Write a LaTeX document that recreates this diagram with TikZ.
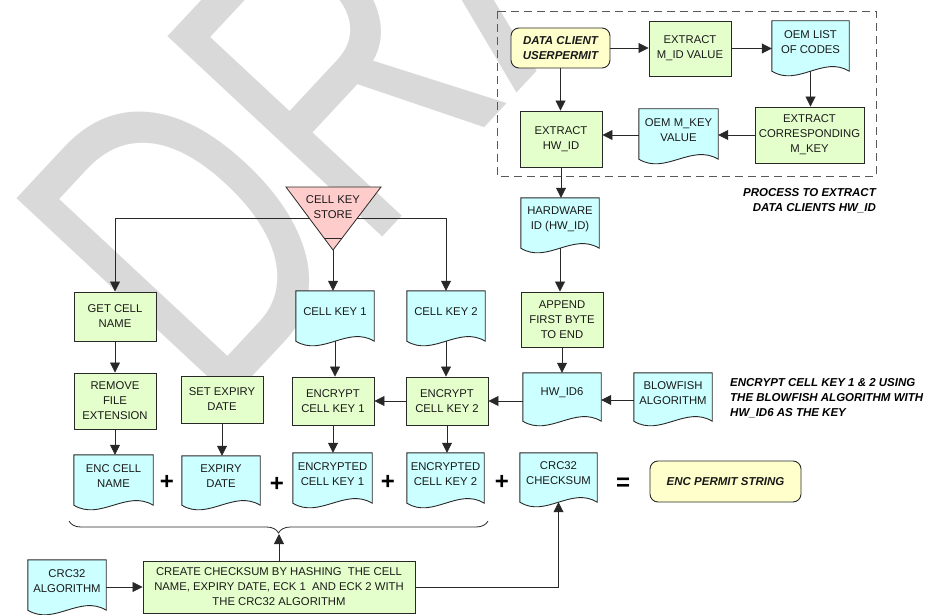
\documentclass[tikz,border=0pt]{standalone}
\usepackage{fontspec}
\setmainfont{Liberation Sans}
\usetikzlibrary{arrows.meta,calc,decorations.pathreplacing}
\pgfdeclarelayer{wmark}
\pgfdeclarelayer{background}
\pgfsetlayers{wmark,background,main}

\definecolor{boxgreen}{RGB}{229,255,204}
\definecolor{boxcyan}{RGB}{204,255,255}
\definecolor{boxyellow}{RGB}{255,255,204}
\definecolor{boxpink}{RGB}{255,204,204}
\definecolor{edge}{RGB}{40,40,40}

\tikzset{
  txt/.style={font=\fontsize{11.3}{15}\selectfont, align=center, inner sep=0pt, text=black!90},
  proc/.style={txt, rectangle, draw=edge, line width=0.9pt, fill=boxgreen},
  term/.style={txt, rectangle, rounded corners=8pt, draw=edge, line width=0.9pt, fill=boxyellow,
               font=\fontsize{11.5}{15.5}\selectfont\bfseries\itshape},
  doc/.style={txt, rectangle},
  docline/.style={draw=edge, line width=0.9pt, fill=boxcyan},
  arr/.style={draw=edge, line width=0.8pt, -{Triangle[length=10pt,width=10pt]}},
  note/.style={inner sep=0pt, font=\fontsize{11.5}{15}\selectfont\bfseries\itshape},
  op/.style={inner sep=0pt, font=\fontsize{24}{24}\selectfont\bfseries},
}

% document symbol: rectangle with a wavy lower edge, drawn behind the node text
\newcommand{\docoutline}[1]{%
  \begin{pgfonlayer}{background}
    \path[docline] (#1.north west) -- (#1.north east) -- ($(#1.south east)+(0,8)$)
      .. controls ($(#1.south east)!1/3!(#1.south west)+(0,-8)$)
             and ($(#1.south east)!2/3!(#1.south west)+(0,24)$) ..
      ($(#1.south west)+(0,8)$) -- cycle;
  \end{pgfonlayer}
  \coordinate (#1-b) at ($(#1.south)+(0,8)$);
}

\begin{document}
\begin{tikzpicture}[x=1pt,y=-1pt]
\useasboundingbox (0,0) rectangle (926,615);

% watermark
\begin{pgfonlayer}{wmark}
  \clip (0,0) rectangle (926,615);
  \node[rotate=47, anchor=base west, inner sep=0pt, text=black!15,
        font=\fontsize{427}{427}\selectfont] (wm) at (214,418) {\scalebox{0.72}[1]{DRAFT}};
\end{pgfonlayer}

% frame of the HW_ID extraction process
\draw[draw=black!65, line width=0.9pt, dash pattern=on 8pt off 5pt] (497,11) rectangle (876,176);

% --- HW_ID extraction ---
\node[term, minimum width=99pt, minimum height=40pt] (dc) at (560.5,48) {DATA CLIENT\\USERPERMIT};
\node[proc, minimum width=82pt, minimum height=55pt] (mid) at (690,48.5) {EXTRACT\\M\_ID VALUE};
\node[doc, minimum width=77pt, minimum height=42pt] (oemlist) at (810.5,42) {OEM LIST\\OF CODES};
\docoutline{oemlist}
\node[proc, minimum width=109pt, minimum height=56pt] (ecorr) at (809.5,135) {EXTRACT\\CORRESPONDING\\M\_KEY};
\node[doc, minimum width=79pt, minimum height=42pt] (oemkey) at (678.5,130) {OEM M\_KEY\\VALUE};
\docoutline{oemkey}
\node[proc, minimum width=82pt, minimum height=56pt] (ehw) at (561,139) {EXTRACT\\HW\_ID};
\node[note, anchor=east, align=right] (n1) at (876,200.5) {PROCESS TO EXTRACT\\DATA CLIENTS HW\_ID};

\node[doc, minimum width=78pt, minimum height=42pt] (hwid) at (560,219) {HARDWARE\\ID (HW\_ID)};
\docoutline{hwid}
\node[proc, minimum width=82pt, minimum height=55pt] (append) at (562,319.5) {APPEND\\FIRST BYTE\\TO END};
\node[doc, minimum width=78pt, minimum height=40pt] (hwid6) at (562,393) {HW\_ID6};
\docoutline{hwid6}
\node[doc, minimum width=78pt, minimum height=40pt] (blow) at (673,393) {BLOWFISH\\ALGORITHM};
\docoutline{blow}
\node[note, anchor=west, align=left] (n2) at (730,398) {ENCRYPT CELL KEY 1 \& 2 USING\\THE BLOWFISH ALGORITHM WITH\\HW\_ID6 AS THE KEY};

% --- cell key store ---
\filldraw[fill=boxpink, draw=edge, line width=0.8pt] (286,187) -- (381,187) -- (333,250) -- cycle;
\draw[edge, line width=0.8pt] (324,238) -- (342,238);
\node[txt] (store) at (333,207) {CELL KEY\\STORE};
\coordinate (tl) at (309,218);
\coordinate (tr) at (357,218);
\coordinate (apex) at (333,250);

\node[proc, minimum width=82pt, minimum height=49pt] (getcell) at (115,316.5) {GET CELL\\NAME};
\node[doc, minimum width=78pt, minimum height=42pt] (ck1) at (335,312) {CELL KEY 1};
\docoutline{ck1}
\node[doc, minimum width=78pt, minimum height=42pt] (ck2) at (446,312) {CELL KEY 2};
\docoutline{ck2}

\node[proc, minimum width=82pt, minimum height=56pt] (remove) at (115,401) {REMOVE\\FILE\\EXTENSION};
\node[proc, minimum width=82pt, minimum height=47pt] (setexp) at (222,399.5) {SET EXPIRY\\DATE};
\node[proc, minimum width=82pt, minimum height=48pt] (enc1) at (333,401) {ENCRYPT\\CELL KEY 1};
\node[proc, minimum width=82pt, minimum height=48pt] (enc2) at (447,401) {ENCRYPT\\CELL KEY 2};

% --- permit string parts ---
\node[doc, minimum width=79pt, minimum height=42pt] (encname) at (113.5,476) {ENC CELL\\NAME};
\docoutline{encname}
\node[doc, minimum width=78pt, minimum height=41pt] (expdate) at (221,476.5) {EXPIRY\\DATE};
\docoutline{expdate}
\node[doc, minimum width=79pt, minimum height=42pt] (eck1) at (332.5,474) {ENCRYPTED\\CELL KEY 1};
\docoutline{eck1}
\node[doc, minimum width=77pt, minimum height=42pt] (eck2) at (445.5,474) {ENCRYPTED\\CELL KEY 2};
\docoutline{eck2}
\node[doc, minimum width=77pt, minimum height=41pt] (crcsum) at (558.5,473.5) {CRC32\\CHECKSUM};
\docoutline{crcsum}

\node[op] (p1) at (167,482) {+};
\node[op] (p2) at (277,484) {+};
\node[op] (p3) at (388,482) {+};
\node[op] (p4) at (502,482) {+};
\node[op] (eq) at (623,484) {=};
\node[term, minimum width=151pt, minimum height=41pt] (permit) at (725.5,481.5) {ENC PERMIT STRING};

% --- checksum ---
\node[doc, minimum width=78pt, minimum height=42pt] (crcalgo) at (67,581) {CRC32\\ALGORITHM};
\docoutline{crcalgo}
\node[proc, minimum width=272pt, minimum height=52pt] (create) at (279,587)
  {CREATE CHECKSUM BY HASHING~ THE CELL\\NAME, EXPIRY DATE, ECK 1~ AND ECK 2 WITH\\THE CRC32 ALGORITHM};

\coordinate (bl) at (69,521);
\coordinate (br) at (488,521);
\coordinate (bt) at (279,534);
\draw[draw=edge, line width=0.8pt, decorate, decoration={brace, amplitude=12pt, mirror}] (bl) -- (br);

% --- connectors ---
\draw[arr] (dc.east) -- (dc.east -| mid.west);
\draw[arr] (mid.east) -- (mid.east -| oemlist.west);
\draw[arr] (oemlist-b) -- (oemlist-b |- ecorr.north);
\draw[arr] (ecorr.west) -- (ecorr.west -| oemkey.east);
\draw[arr] (ecorr.west -| oemkey.west) -- (ecorr.west -| ehw.east);
\draw[arr] (dc.south) -- (dc.south |- ehw.north);
\draw[arr] (ehw.south) -- (ehw.south |- hwid.north);
\draw[arr] (hwid-b) -- (hwid-b |- append.north);
\draw[arr] (append.south) -- (append.south |- hwid6.north);
\coordinate (bw) at ($(blow.west)+(0,7)$);
\draw[arr] (bw) -- (bw -| hwid6.east);
\draw[arr] (enc2.east -| hwid6.west) -- (enc2.east);
\draw[arr] (enc2.west) -- (enc2.west -| enc1.east);
\draw[arr] (tl) -| (getcell.north);
\draw[arr] (tr) -| (ck2.north);
\draw[arr] (apex) -- (apex |- ck1.north);
\draw[arr] (getcell.south) -- (remove.north);
\draw[arr] (ck1-b) -- (ck1-b |- enc1.north);
\draw[arr] (ck2-b) -- (ck2-b |- enc2.north);
\draw[arr] (remove.south) -- (remove.south |- encname.north);
\draw[arr] (setexp.south) -- (setexp.south |- expdate.north);
\draw[arr] (enc1.south) -- (enc1.south |- eck1.north);
\draw[arr] (enc2.south) -- (enc2.south |- eck2.north);
\draw[arr] (create.west -| crcalgo.east) -- (create.west);
\draw[arr] (create.north) -- (create.north |- bt);
\draw[arr] (create.east) -| (crcsum-b);
\end{tikzpicture}
\end{document}
